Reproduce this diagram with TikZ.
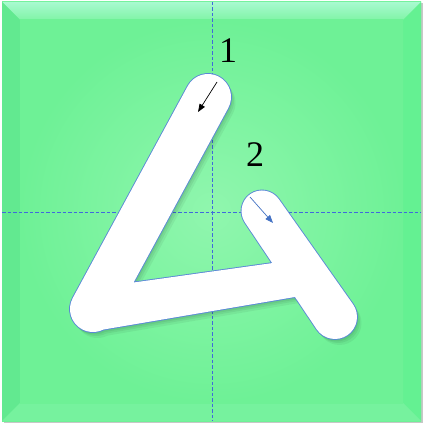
\documentclass[tikz,border=0pt]{standalone}
\usepackage{fontspec}
\newfontfamily\digitfont{Liberation Serif}
\usetikzlibrary{arrows.meta}
\definecolor{facein}{RGB}{144,246,174}
\definecolor{faceout}{RGB}{110,241,150}
\definecolor{beveltop}{RGB}{168,250,208}
\definecolor{beveltopin}{RGB}{128,244,166}
\definecolor{bevelleft}{RGB}{98,233,144}
\definecolor{bevelright}{RGB}{100,241,146}
\definecolor{bevelbottom}{RGB}{118,242,158}
\definecolor{guideblue}{RGB}{64,104,220}
\definecolor{rimblue}{RGB}{90,136,214}
\definecolor{arrowblue}{RGB}{68,114,196}
\newcommand\glyphpath{%
  (228.2,108.0) -- (113.2,320.0) arc[start angle=28.48, end angle=208.48, radius=23]
  -- (187.8,86.0) arc[start angle=208.48, end angle=388.48, radius=23] -- cycle
  (278.9,199.4) -- (353.1,304.5) arc[start angle=-34.55, end angle=145.45, radius=22]
  -- (245.1,222.6) arc[start angle=145.45, end angle=325.45, radius=20.5] -- cycle
  (93,288.2) -- (310,257.8) -- (310,294.4) -- (93,331.3) -- cycle}
\tikzset{
  guide/.style={guideblue, line width=0.8pt, dash pattern=on 3.5pt off 2pt},
  numlabel/.style={font=\digitfont\fontsize{36}{36}\selectfont, inner sep=0pt},
  strokearrow/.style={line width=0.7pt, -{Triangle[length=8pt,width=6pt]}},
}
\begin{document}
\begin{tikzpicture}[x=1pt,y=-1pt]
\useasboundingbox (0,0) rectangle (425,425);
% outer shadow rim
\fill[black!22] (3.5,3.5) rectangle (423,423);
% face
\shade[inner color=facein, outer color=faceout] (2,2) rectangle (421,421);
% bevels
\shade[top color=beveltop, bottom color=beveltopin] (2,2) -- (421,2) -- (403,20) -- (20,20) -- cycle;
\fill[bevelleft] (2,2) -- (20,20) -- (20,403) -- (2,421) -- cycle;
\fill[bevelright] (421,2) -- (421,421) -- (403,403) -- (403,20) -- cycle;
\fill[bevelbottom] (2,421) -- (20,403) -- (403,403) -- (421,421) -- cycle;
\shade[inner color=facein, outer color=faceout] (20,20) rectangle (403,403);
% guide lines
\coordinate (vtop) at (212,2);
\coordinate (vbot) at (212,421);
\coordinate (hleft) at (2,212);
\coordinate (hright) at (421,212);
\draw[guide] (vtop) -- (vbot);
\draw[guide] (hleft) -- (hright);
% shadow of glyph
\fill[black, opacity=0.06, shift={(1.5,2.5)}] \glyphpath;
\fill[black, opacity=0.06, shift={(3,4)}] \glyphpath;
\fill[black, opacity=0.05, shift={(4.5,6)}] \glyphpath;
% glyph with rim
\draw[rimblue, line width=1.8pt] \glyphpath;
\fill[white] \glyphpath;
% stroke order labels
\node[numlabel] (one) at (228,51) {1};
\node[numlabel] (two) at (255,155) {2};
\coordinate (a1s) at (217,82);
\coordinate (a1e) at (198,112);
\coordinate (a2s) at (250,197);
\coordinate (a2e) at (273,223);
\draw[strokearrow, black] (a1s) -- (a1e);
\draw[strokearrow, arrowblue] (a2s) -- (a2e);
\end{tikzpicture}
\end{document}
